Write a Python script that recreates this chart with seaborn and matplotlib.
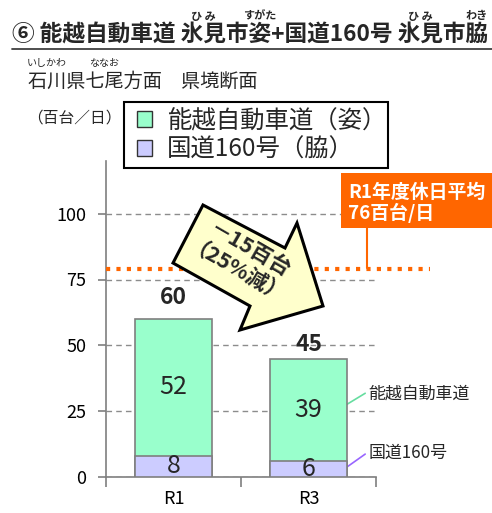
import numpy as np
import pandas as pd
import matplotlib
matplotlib.use("Agg")
import matplotlib.pyplot as plt
import seaborn as sns
from matplotlib.patches import Patch, Polygon, Rectangle
from matplotlib.lines import Line2D
from matplotlib.font_manager import FontProperties

# ---------------- data ----------------
years = ["R1", "R3"]
noetsu = [52, 39]          # 能越自動車道（姿）
route160 = [8, 6]          # 国道160号（脇）
totals = [60, 45]
avg_line_level = 79        # level at which the R1 holiday-average line is drawn
avg_lines = ["R1年度休日平均", "76百台/日"]
yticks = [0, 25, 50, 75, 100]
legend_labels = ["能越自動車道（姿）", "国道160号（脇）"]
side_labels = ["能越自動車道", "国道160号"]
title = "⑥ 能越自動車道 氷見市姿+国道160号 氷見市脇"
title_ruby = [("⑥ 能越自動車道 ", "氷見", "ひ み"),
              ("⑥ 能越自動車道 氷見市", "姿", "すがた"),
              ("⑥ 能越自動車道 氷見市姿+国道160号 ", "氷見", "ひ み"),
              ("⑥ 能越自動車道 氷見市姿+国道160号 氷見市", "脇", "わき")]
subtitle = "石川県七尾方面　県境断面"
subtitle_ruby = [("", "石川", "いしかわ"), ("石川県", "七尾", "ななお")]
unit = "（百台／日）"
arrow_lines = ["－15百台", "（25%減）"]

# ---------------- style ----------------
sns.set_theme(style="white")
FAM = ['Noto Sans CJK JP', 'DejaVu Sans']
plt.rcParams['font.family'] = FAM

W, H = 492, 513
fig = plt.figure(figsize=(W / 100, H / 100), dpi=100)
renderer = fig.canvas.get_renderer()

def fx(x):
    return x / W

def fy(y):
    return 1 - y / H

def text_w(s, size, weight='normal'):
    if not s:
        return 0.0
    fp = FontProperties(family=FAM, size=size, weight=weight)
    w, h, d = renderer.get_text_width_height_descent(s, fp, ismath=False)
    return w

green = "#99FFCC"
purple = "#CCCCFF"
edge = "#7F7F7F"
orange = "#FF6600"

ax = fig.add_axes([fx(106), fy(477), (376 - 106) / W, (477 - 161) / H])

df = pd.DataFrame({"year": years, "noetsu": noetsu, "route160": route160})
df["total"] = df["noetsu"] + df["route160"]

sns.barplot(data=df, x="year", y="total", color=green, edgecolor=edge,
            linewidth=1.2, width=0.57, saturation=1, errorbar=None, ax=ax, zorder=3)
sns.barplot(data=df, x="year", y="route160", color=purple, edgecolor=edge,
            linewidth=1.2, width=0.57, saturation=1, errorbar=None, ax=ax, zorder=3)

ax.set_xlim(-0.5, 1.5)
ax.set_ylim(0, 120)
ax.set_yticks(yticks)
ax.set_xticks([0, 1])
ax.set_xticklabels(years)
ax.set_xticks([-0.5, 0.5, 1.5], minor=True)
ax.set_xlabel("")
ax.set_ylabel("")
for s in ["top", "right"]:
    ax.spines[s].set_visible(False)
for s in ["left", "bottom"]:
    ax.spines[s].set_color(edge)
    ax.spines[s].set_linewidth(1.2)
ax.tick_params(axis='y', left=True, length=6, width=1.2, color=edge, labelsize=13, pad=8, labelcolor='black')
ax.tick_params(axis='x', which='major', bottom=True, length=0, labelsize=13, pad=9, labelcolor='black')
ax.tick_params(axis='x', which='minor', bottom=True, length=7, width=1.2, color=edge)
ax.set_axisbelow(True)
ax.yaxis.grid(True, color='#8C8C8C', linestyle=(0, (4, 3)), lw=1)
ax.xaxis.grid(False)

# segment labels
for i in range(len(years)):
    ax.text(i, route160[i] + noetsu[i] / 2, str(noetsu[i]), ha='center', va='center', fontsize=18, zorder=5)
    ax.text(i, route160[i] / 2, str(route160[i]), ha='center', va='center', fontsize=18, zorder=5)

# totals
total_offsets = [7, 2]
for i in range(len(years)):
    ax.annotate(str(totals[i]), xy=(i, totals[i]), xytext=(0, total_offsets[i]),
                textcoords='offset points', ha='center', va='bottom', fontsize=16.5, fontweight='bold')

# holiday average dotted line
ax.plot([-0.5, 1.9], [avg_line_level, avg_line_level], color=orange, lw=3,
        linestyle=(0, (1, 1.5)), clip_on=False, zorder=4, dash_capstyle='butt')

# side labels with connectors
ax.plot([1.285, 1.42], [27.6, 31.8], color='#66DDA0', lw=1.2, clip_on=False)
ax.plot([1.285, 1.42], [3.8, 8.7], color='#9966FF', lw=1.2, clip_on=False)
ax.text(1.445, 31.8, side_labels[0], ha='left', va='center', fontsize=12.2, clip_on=False)
ax.text(1.445, 9.0, side_labels[1], ha='left', va='center', fontsize=12.2, clip_on=False)

# legend (frame drawn separately)
handles = [Patch(facecolor=green, edgecolor="#333333", lw=1),
           Patch(facecolor=purple, edgecolor="#333333", lw=1)]
leg = fig.legend(handles, legend_labels, loc="upper left",
                 bbox_to_anchor=(fx(137), fy(108)), borderaxespad=0, fontsize=17.6,
                 frameon=False, handlelength=0.62, handleheight=0.62, handletextpad=0.62,
                 borderpad=0, labelspacing=0.12)
fig.add_artist(Rectangle((fx(124), fy(168)), fx(388) - fx(124), fy(102) - fy(168),
                         transform=fig.transFigure, facecolor='white', edgecolor='black',
                         lw=1.5, zorder=0.5))

# big arrow
pts = [(203, 205), (285, 248), (297, 223), (323, 306), (240, 330), (250, 306), (173, 263)]
arrow = Polygon([(fx(x), fy(y)) for x, y in pts], closed=True, transform=fig.transFigure,
                facecolor="#FFFFCC", edgecolor='black', lw=2.2, zorder=5)
fig.add_artist(arrow)
for txt, (cx, cy) in zip(arrow_lines, [(250, 250), (235, 276)]):
    fig.text(fx(cx), fy(cy), txt, rotation=-30, ha='center', va='center',
             fontsize=15.5, fontweight='bold', rotation_mode='anchor', zorder=6)

# orange callout
box = Rectangle((fx(341), fy(228)), fx(492) - fx(341), fy(173) - fy(228),
                transform=fig.transFigure, facecolor=orange, edgecolor='none', zorder=5)
fig.add_artist(box)
fig.add_artist(Line2D([fx(367), fx(367)], [fy(228), fy(268)], color=orange, lw=1.5,
                      transform=fig.transFigure, zorder=5))
fig.text(fx(348), fy(192), avg_lines[0], color='white', fontsize=13.6, fontweight='bold',
         ha='left', va='center', zorder=6)
fig.text(fx(348), fy(213), avg_lines[1], color='white', fontsize=13.6, fontweight='bold',
         ha='left', va='center', zorder=6)

# title + underline + furigana
TX, TS = 12, 16.3
fig.text(fx(TX), fy(35), title, fontsize=TS, fontweight='bold', ha='left', va='center')
fig.add_artist(Line2D([fx(12), fx(492)], [fy(49), fy(49)], color='#404040', lw=1.3,
                      transform=fig.transFigure))
for pre, word, ruby in title_ruby:
    x0 = TX + text_w(pre, TS, 'bold')
    x1 = TX + text_w(pre + word, TS, 'bold')
    fig.text(fx((x0 + x1) / 2), fy(16), ruby, fontsize=8, fontweight='bold', ha='center', va='center')

SX, SS = 28, 13.8
fig.text(fx(SX), fy(81), subtitle, fontsize=SS, ha='left', va='center')
for pre, word, ruby in subtitle_ruby:
    x0 = SX + text_w(pre, SS)
    x1 = SX + text_w(pre + word, SS)
    fig.text(fx((x0 + x1) / 2), fy(63), ruby, fontsize=7.2, ha='center', va='center')

fig.text(fx(27), fy(118), unit, fontsize=11.3, ha='left', va='center')

fig.savefig("out.png", dpi=100)
